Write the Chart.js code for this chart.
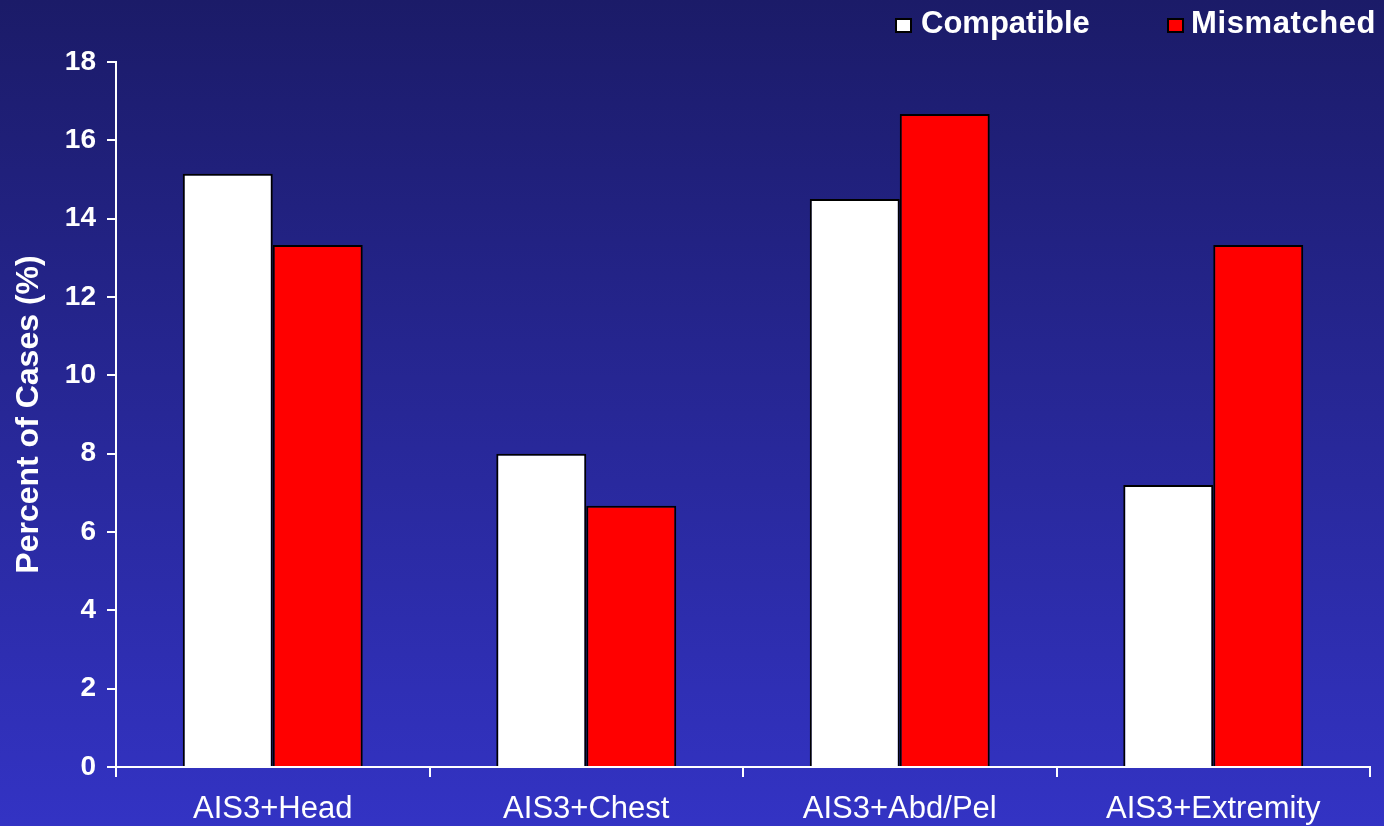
<!DOCTYPE html>
<html>
<head>
<meta charset="utf-8">
<script src="https://cdn.jsdelivr.net/npm/chart.js@4/dist/chart.umd.min.js"></script>
<style>
body { margin: 0; }
#wrap {
    position: relative;
    width: 1384px;
    height: 826px;
    background: linear-gradient(to bottom, #1b1b68 0%, #3333c4 100%);
    font-family: "Liberation Sans", Arial, sans-serif;
}
.leg { position: absolute; top: 7px; color: #fff; font-weight: bold; font-size: 31px; line-height: 31px; }
.box { position: absolute; top: 18px; width: 17px; height: 15px; border: 2px solid #000; box-sizing: border-box; }
</style>
</head>
<body>
<div id="wrap">
    <canvas id="chart" width="1384" height="826"></canvas>
    <div class="box" style="left:895px; background:#fff;"></div>
    <div class="leg" style="left:921px;">Compatible</div>
    <div class="box" style="left:1167px; background:#f00;"></div>
    <div class="leg" style="left:1191px; letter-spacing:0.6px;">Mismatched</div>
</div>
<script>
var categories = ["AIS3+Head", "AIS3+Chest", "AIS3+Abd/Pel", "AIS3+Extremity"];
var compatibleData = [15.15, 8.0, 14.5, 7.2];
var mismatchedData = [13.33, 6.67, 16.67, 13.33];
var yTicks = [0, 2, 4, 6, 8, 10, 12, 14, 16, 18];

var chartOptions = {
    type: 'bar',
    data: {
        labels: categories,
        datasets: [{
            label: 'Compatible',
            data: compatibleData,
            backgroundColor: '#ffffff',
            borderColor: '#000000',
            borderWidth: 2
        }, {
            label: 'Mismatched',
            data: mismatchedData,
            backgroundColor: '#ff0000',
            borderColor: '#000000',
            borderWidth: 2
        }]
    },
    options: {
        responsive: false,
        animation: false,
        categoryPercentage: 0.574,
        barPercentage: 1.0,
        layout: {
            padding: { top: 62, right: 14, left: 0, bottom: 0 }
        },
        plugins: {
            legend: { display: false },
            tooltip: { enabled: false }
        },
        scales: {
            x: {
                grid: {
                    color: '#ffffff',
                    lineWidth: 2,
                    drawOnChartArea: false,
                    tickLength: 10
                },
                border: { color: '#ffffff', width: 2 },
                ticks: {
                    color: '#ffffff',
                    padding: 14,
                    font: { family: 'Liberation Sans', size: 31 }
                },
                afterFit: function(scale) { scale.height = 59; }
            },
            y: {
                min: 0,
                max: 18,
                afterBuildTicks: function(scale) {
                    scale.ticks = yTicks.map(function(v) { return { value: v }; });
                },
                grid: {
                    color: '#ffffff',
                    lineWidth: 2,
                    drawOnChartArea: false,
                    tickLength: 9
                },
                border: { color: '#ffffff', width: 2 },
                ticks: {
                    color: '#ffffff',
                    padding: 11,
                    font: { family: 'Liberation Sans', size: 28, weight: 'bold' }
                },
                title: {
                    display: true,
                    text: 'Percent of Cases (%)',
                    color: '#ffffff',
                    padding: { top: 10, bottom: 0 },
                    font: { family: 'Liberation Sans', size: 32, weight: 'bold' }
                },
                afterFit: function(scale) { scale.width = 116; }
            }
        }
    }
};

var canvas = document.getElementById("chart");
var chart = new Chart(canvas, chartOptions);
</script>
</body>
</html>
